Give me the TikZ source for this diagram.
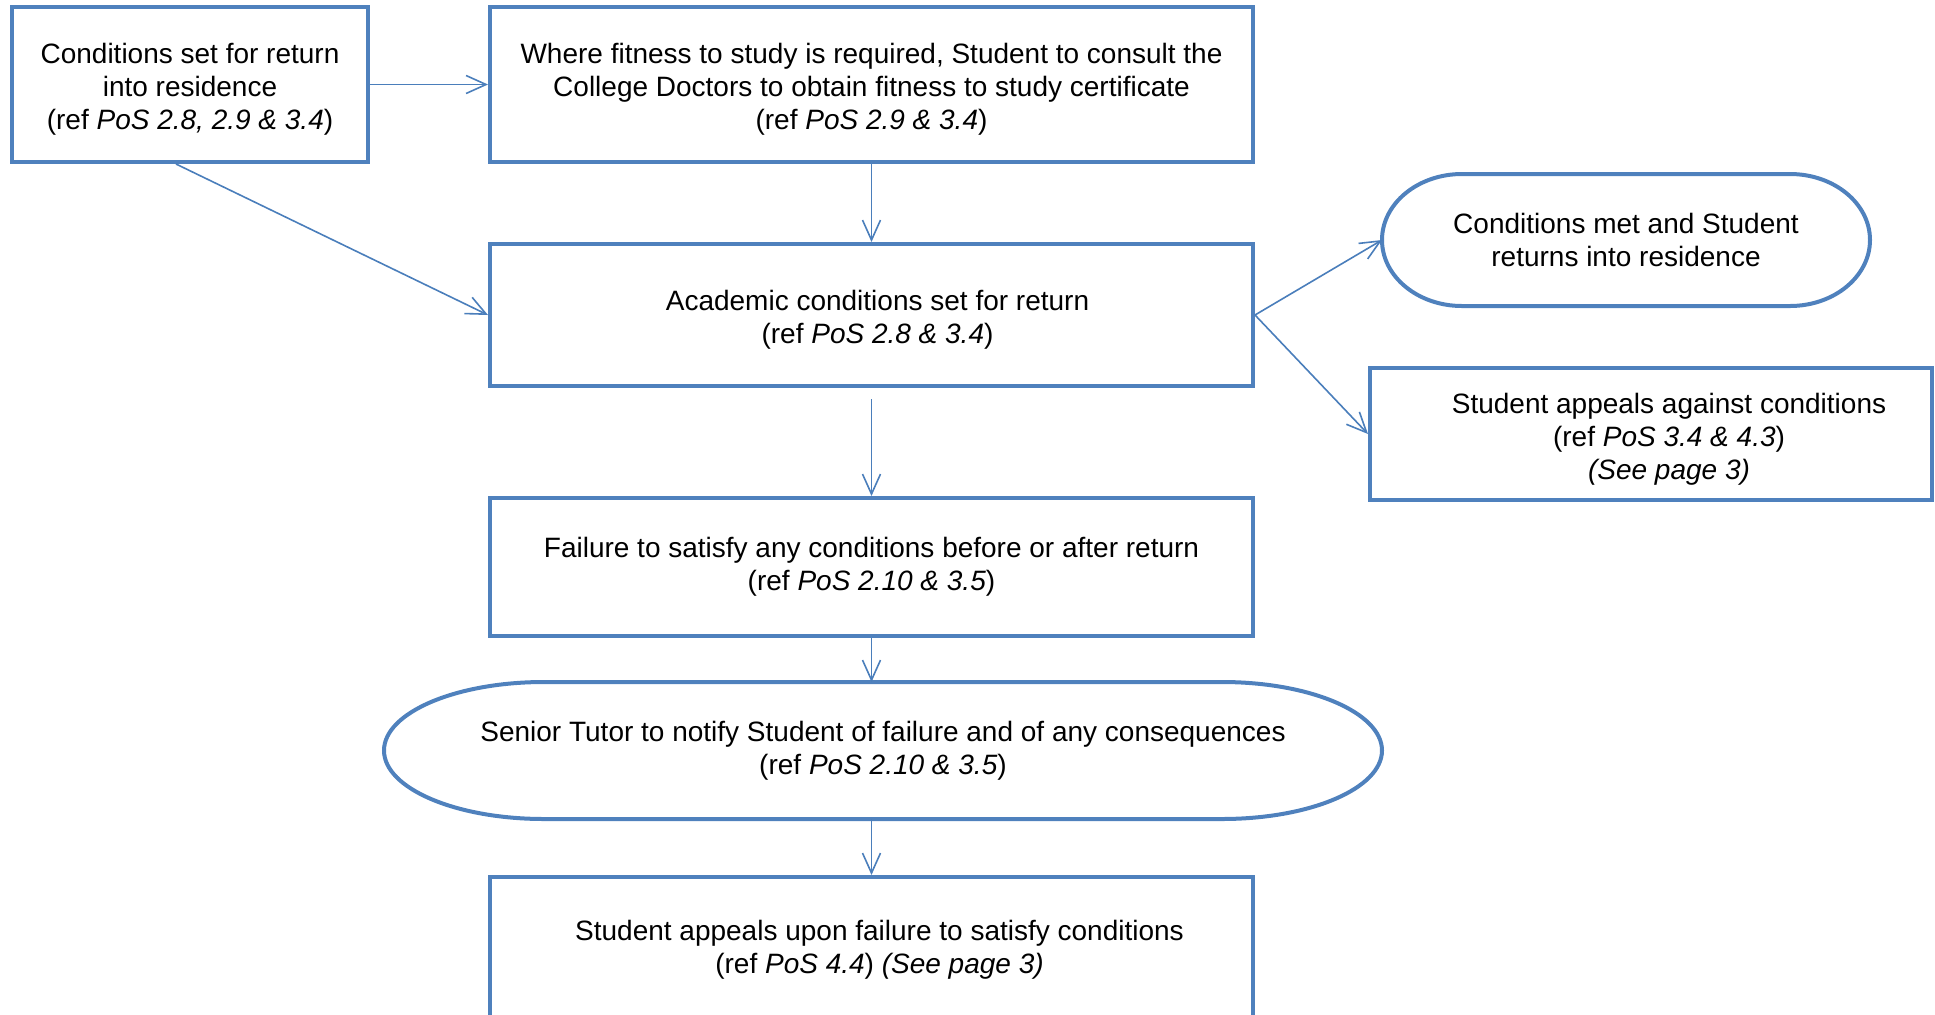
\documentclass[tikz,border=0pt]{standalone}
\usepackage{fontspec}
\setmainfont{Liberation Sans}
\usepackage{tikz}
\usetikzlibrary{arrows.meta,positioning}
\definecolor{boxblue}{RGB}{79,129,189}
\definecolor{linkblue}{RGB}{74,126,187}
\tikzset{font=\fontsize{14}{16.5}\selectfont}
\tikzstyle{box}=[draw=boxblue,line width=2pt,align=center,inner sep=0pt]
\tikzstyle{term}=[align=center,inner sep=0pt,outer sep=0pt]
\tikzstyle{link}=[draw=linkblue,line width=0.8pt,-{Straight Barb[length=10pt,width=9pt]}]
% a little room above the first line
\newcommand{\tgap}{\rule{0pt}{15pt}}
% terminator outline round a node: name, end radius, half height
\newcommand{\termline}[3]{%
\draw[boxblue,line width=2pt] ([xshift=#2]#1.north west) -- ([xshift=-#2]#1.north east)
  arc[start angle=90,end angle=-90,x radius=#2,y radius=#3]
  -- ([xshift=#2]#1.south west)
  arc[start angle=-90,end angle=-270,x radius=#2,y radius=#3] -- cycle;}

\begin{document}
\begin{tikzpicture}[x=0.5pt,y=0.5pt]
\useasboundingbox (0,0) rectangle (1935,-1014);
\node[box,minimum width=178pt,minimum height=77.5pt] (cond) at (190,-84.5) {\tgap Conditions set for return\\ into residence\\ (ref \textit{PoS 2.8, 2.9 \& 3.4})};
\node[box,minimum width=381.5pt,minimum height=77.5pt] (fit) at (871.5,-84.5) {\tgap Where fitness to study is required, Student to consult the\\ College Doctors to obtain fitness to study certificate\\ (ref \textit{PoS 2.9 \& 3.4})};
\node[box,minimum width=381.5pt,minimum height=71pt] (acad) at (871.5,-315) {\tgap\hspace*{6pt}Academic conditions set for return\\ \hspace*{6pt}(ref \textit{PoS 2.8 \& 3.4})};
\node[term,minimum width=244pt,minimum height=66pt] (met) at (1626,-240) {Conditions met and Student\\ returns into residence};
\node[box,minimum width=281pt,minimum height=66pt] (against) at (1651,-434) {\tgap\hspace*{18pt}Student appeals against conditions\\ \hspace*{18pt}(ref \textit{PoS 3.4 \& 4.3})\\ \hspace*{18pt}\textit{(See page 3)}};
\node[box,minimum width=381.5pt,minimum height=69pt] (fail) at (871.5,-567) {Failure to satisfy any conditions before or after return\\ (ref \textit{PoS 2.10 \& 3.5})};
\node[term,minimum width=499pt,minimum height=68.5pt] (tutor) at (883,-750.5) {Senior Tutor to notify Student of failure and of any consequences\\ (ref \textit{PoS 2.10 \& 3.5})};
\node[box,minimum width=381.5pt,minimum height=73pt] (upon) at (871.5,-950) {\hspace*{8pt}Student appeals upon failure to satisfy conditions\\ \hspace*{8pt}(ref \textit{PoS 4.4}) \textit{(See page 3)}};
\termline{met}{40pt}{33pt}
\termline{tutor}{80pt}{34.25pt}
\coordinate (acadout) at (871.5,-399);
\draw[link] (cond.east) -- (fit.west);
\draw[link] ([xshift=-7pt]cond.south) -- (acad.west);
\draw[link] (fit.south) -- (acad.north);
\draw[link] (acadout) -- (fail.north);
\draw[link] (acad.east) -- (met.west);
\draw[link] (acad.east) -- (against.west);
\draw[link] (fail.south) -- (fail.south |- tutor.north);
\draw[link] (tutor.south -| upon.north) -- (upon.north);
\end{tikzpicture}
\end{document}
